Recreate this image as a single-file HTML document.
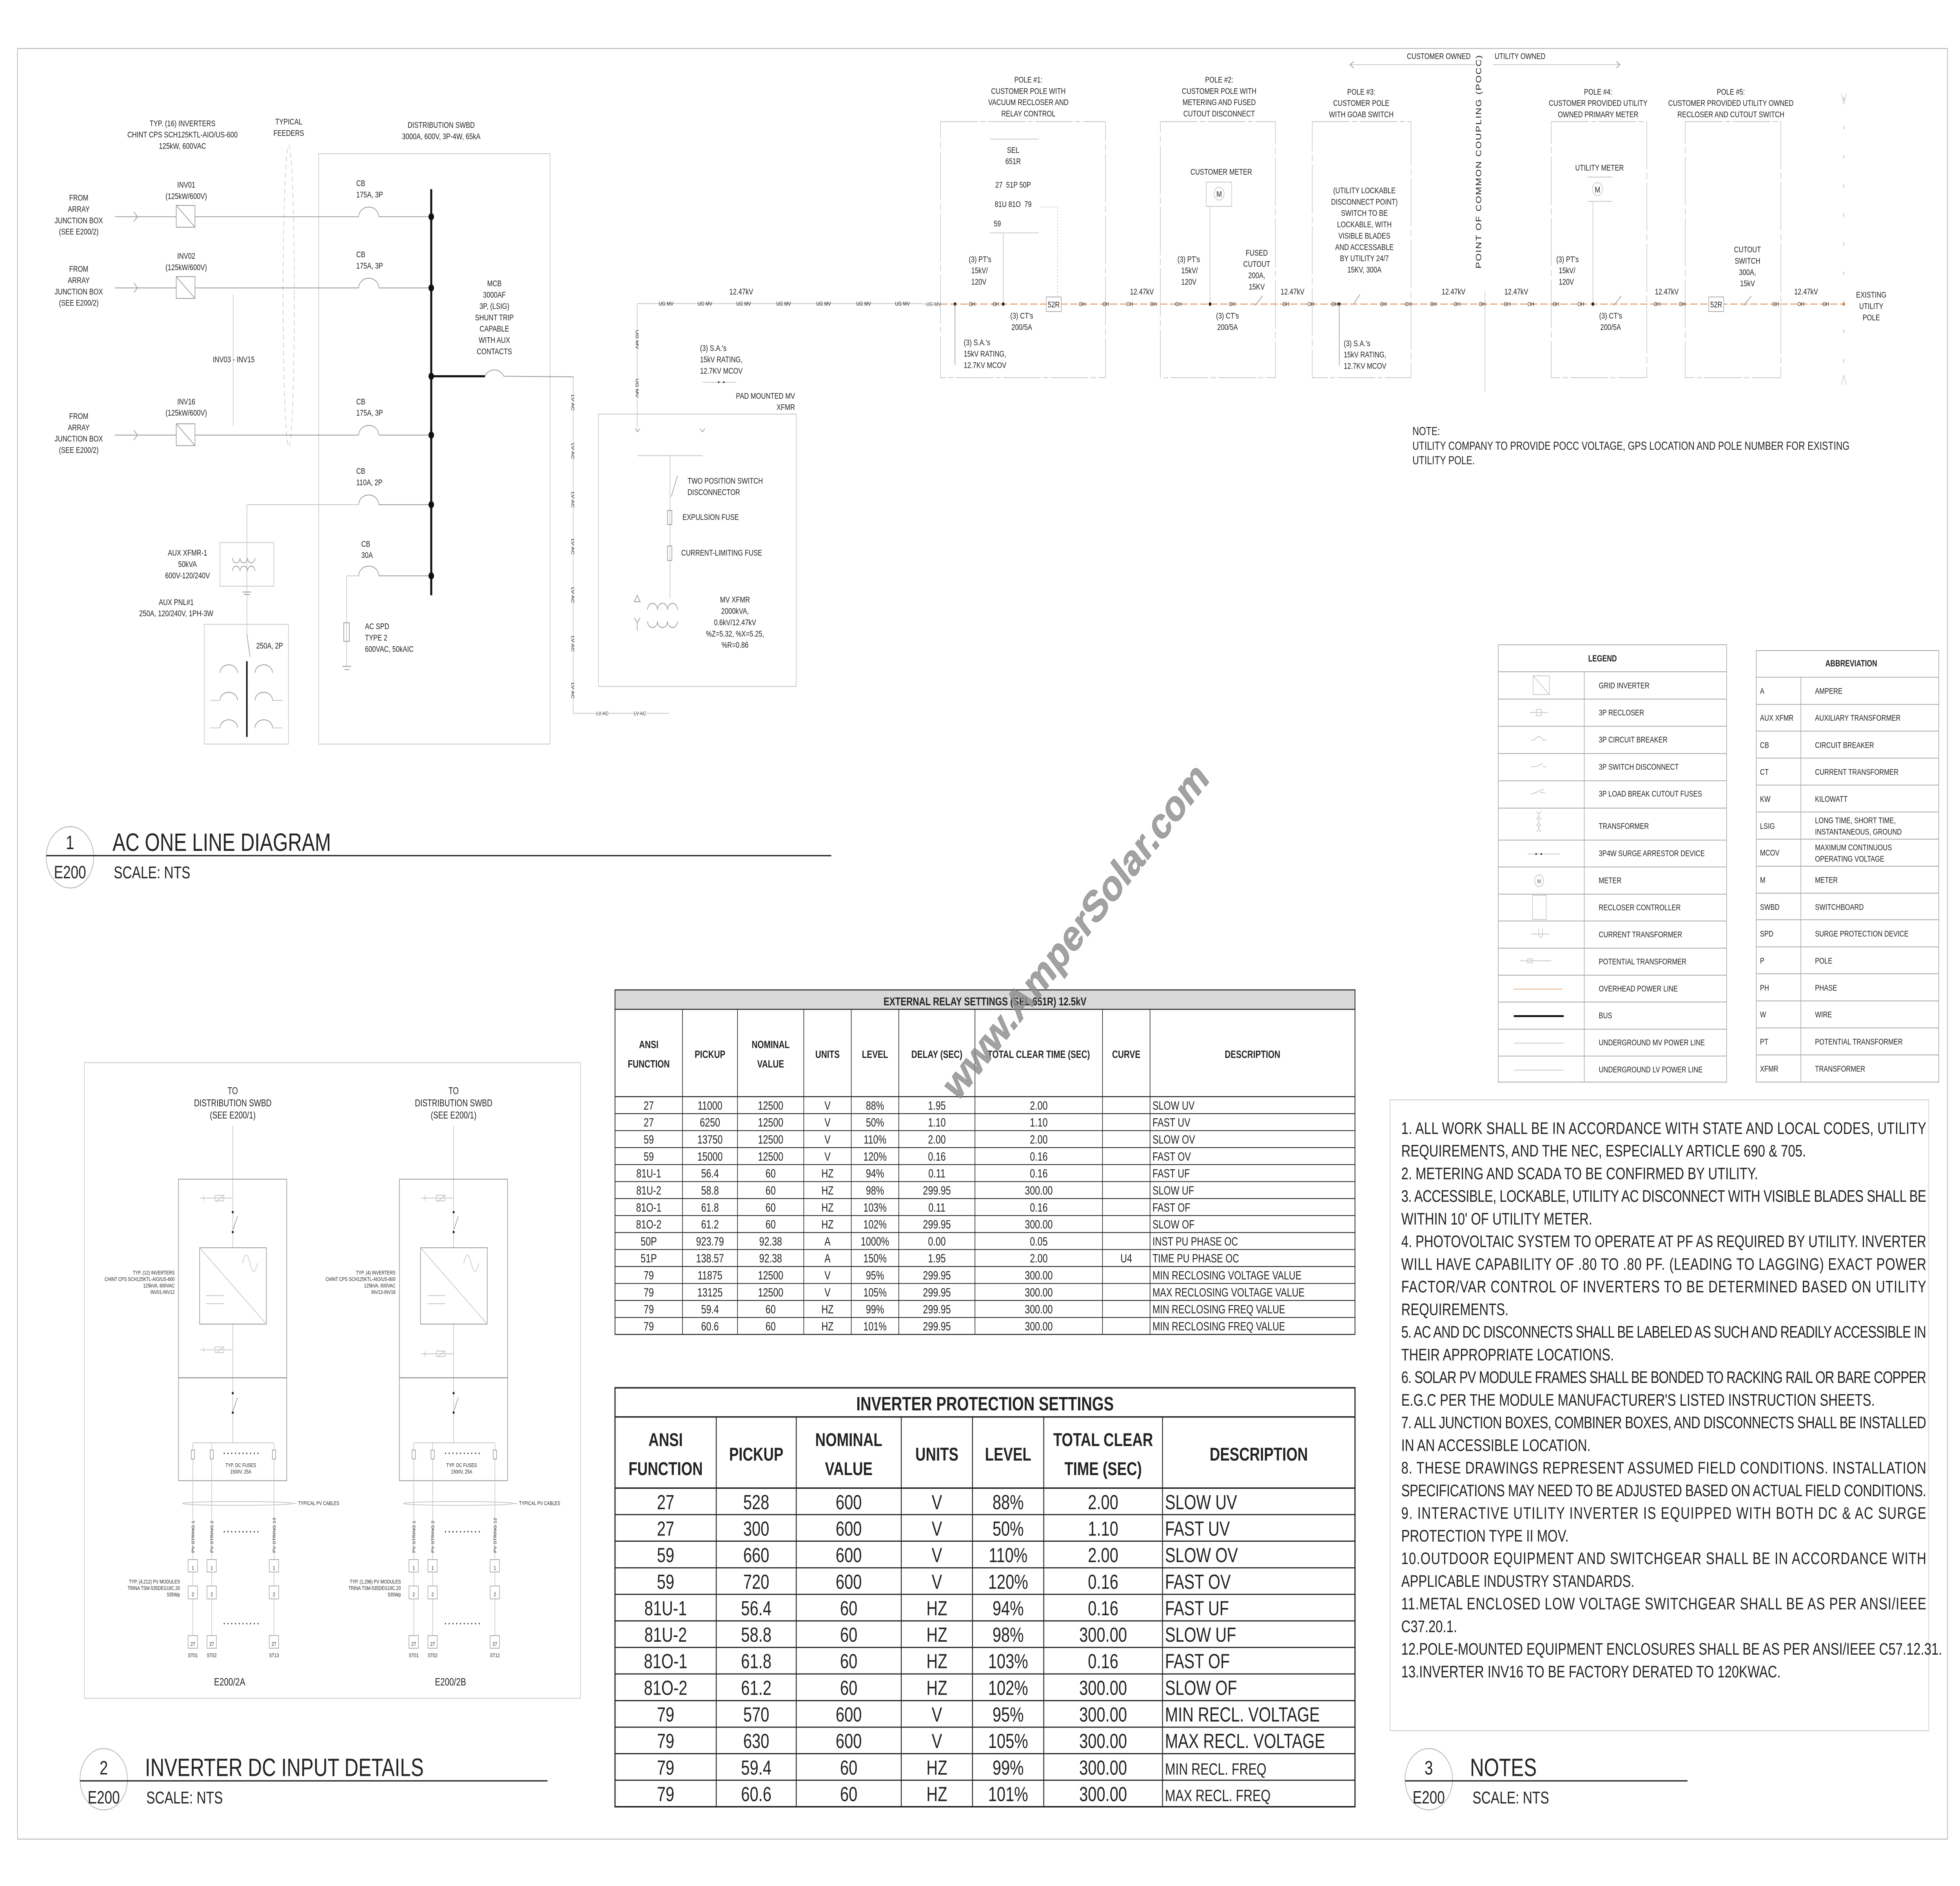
<!DOCTYPE html>
<html><head><meta charset="utf-8">
<style>
html,body{margin:0;padding:0;background:#fff;overflow:hidden;width:100%;height:100%;}
svg{display:block;position:absolute;left:0;top:0;width:100vw;height:100vh;}
text{font-family:"Liberation Sans",sans-serif;fill:#222;}
.s{font-size:5.2px;}
.xs{font-size:3.6px;fill:#555;}
.m{font-size:6px;}
.c{text-anchor:middle;}
.r{text-anchor:end;}
.g{stroke:#9a9a9a;stroke-width:.5;fill:none;}
.gl{stroke:#c8c8c8;stroke-width:.5;fill:none;}
.k{stroke:#333;stroke-width:.6;fill:none;}
.oh{stroke:#e39a62;stroke-width:.6;fill:none;stroke-dasharray:6 2;}
.ser{font-family:"Liberation Serif",serif;}
.tb{stroke:#222;stroke-width:.6;fill:none;}
.tb2{stroke:#222;stroke-width:.9;fill:none;}
</style></head><body>
<svg viewBox="0 0 1568 1166" preserveAspectRatio="none" xmlns="http://www.w3.org/2000/svg">
<rect x="0" y="0" width="1568" height="1166" fill="#fff"/>
<rect x="14" y="30" width="1544" height="1107" fill="none" stroke="#bbb" stroke-width=".6"/>

<!-- ================= AC ONE LINE (left) ================= -->
<text class="s c" x="146" y="78">TYP. (16) INVERTERS</text>
<text class="s c" x="146" y="85">CHINT CPS SCH125KTL-AIO/US-600</text>
<text class="s c" x="146" y="92">125kW, 600VAC</text>
<text class="s c" x="231" y="77">TYPICAL</text>
<text class="s c" x="231" y="84">FEEDERS</text>
<text class="s c" x="353" y="79">DISTRIBUTION SWBD</text>
<text class="s c" x="353" y="86">3000A, 600V, 3P-4W, 65kA</text>
<ellipse cx="231" cy="183" rx="4.5" ry="93" class="gl" stroke-dasharray="3 2"/>
<rect x="255" y="95" width="185" height="365" class="gl"/>
<line x1="345" y1="117" x2="345" y2="368" stroke="#111" stroke-width="1.6"/>
<g>
<text class="s c" x="63" y="124">FROM</text><text class="s c" x="63" y="131">ARRAY</text><text class="s c" x="63" y="138">JUNCTION BOX</text><text class="s c" x="63" y="145">(SEE E200/2)</text>
<line x1="92" y1="134" x2="141" y2="134" class="g"/><path d="M107 131 L110 134 L107 137" class="g"/>
<rect x="141" y="127" width="15" height="13.5" class="g"/><line x1="141" y1="127" x2="156" y2="140.5" class="g"/>
<text class="s c" x="149" y="116">INV01</text><text class="s c" x="149" y="123">(125kW/600V)</text>
<line x1="156" y1="134" x2="287" y2="134" class="g"/><path d="M287 134 A8 6 0 0 1 303 134" class="g"/><line x1="303" y1="134" x2="345" y2="134" class="g"/>
<text class="s" x="285" y="115">CB</text><text class="s" x="285" y="122">175A, 3P</text>
<circle cx="345" cy="134" r="2.2" fill="#111"/>
</g>
<g>
<text class="s c" x="63" y="168">FROM</text><text class="s c" x="63" y="175">ARRAY</text><text class="s c" x="63" y="182">JUNCTION BOX</text><text class="s c" x="63" y="189">(SEE E200/2)</text>
<line x1="92" y1="178" x2="141" y2="178" class="g"/><path d="M107 175 L110 178 L107 181" class="g"/>
<rect x="141" y="171" width="15" height="13.5" class="g"/><line x1="141" y1="171" x2="156" y2="184.5" class="g"/>
<text class="s c" x="149" y="160">INV02</text><text class="s c" x="149" y="167">(125kW/600V)</text>
<line x1="156" y1="178" x2="287" y2="178" class="g"/><path d="M287 178 A8 6 0 0 1 303 178" class="g"/><line x1="303" y1="178" x2="345" y2="178" class="g"/>
<text class="s" x="285" y="159">CB</text><text class="s" x="285" y="166">175A, 3P</text>
<circle cx="345" cy="178" r="2.2" fill="#111"/>
</g>
<line x1="186.5" y1="182" x2="186.5" y2="263" class="gl"/>
<text class="s c" x="187" y="224">INV03 - INV15</text>
<g>
<text class="s c" x="63" y="259">FROM</text><text class="s c" x="63" y="266">ARRAY</text><text class="s c" x="63" y="273">JUNCTION BOX</text><text class="s c" x="63" y="280">(SEE E200/2)</text>
<line x1="92" y1="269" x2="141" y2="269" class="g"/><path d="M107 266 L110 269 L107 272" class="g"/>
<rect x="141" y="262" width="15" height="13.5" class="g"/><line x1="141" y1="262" x2="156" y2="275.5" class="g"/>
<text class="s c" x="149" y="250">INV16</text><text class="s c" x="149" y="257">(125kW/600V)</text>
<line x1="156" y1="269" x2="287" y2="269" class="g"/><path d="M287 269 A8 6 0 0 1 303 269" class="g"/><line x1="303" y1="269" x2="345" y2="269" class="g"/>
<text class="s" x="285" y="250">CB</text><text class="s" x="285" y="257">175A, 3P</text>
<circle cx="345" cy="269" r="2.2" fill="#111"/>
</g>
<line x1="345" y1="232.6" x2="388" y2="232.6" stroke="#111" stroke-width="1.3"/>
<path d="M388 232.6 A8 6 0 0 1 403 232.6" class="g"/><line x1="403" y1="232.6" x2="459" y2="233" class="g"/>
<circle cx="345" cy="232.6" r="2.2" fill="#111"/>
<text class="s c" x="395.5" y="177">MCB</text><text class="s c" x="395.5" y="184">3000AF</text><text class="s c" x="395.5" y="191">3P, (LSIG)</text><text class="s c" x="395.5" y="198">SHUNT TRIP</text><text class="s c" x="395.5" y="205">CAPABLE</text><text class="s c" x="395.5" y="212">WITH AUX</text><text class="s c" x="395.5" y="219">CONTACTS</text>
<line x1="197.5" y1="312" x2="287" y2="312" class="gl"/><path d="M287 312 A8 6 0 0 1 303 312" class="g"/><line x1="303" y1="312" x2="345" y2="312" class="g"/>
<circle cx="345" cy="312" r="2.2" fill="#111"/>
<text class="s" x="285" y="293">CB</text><text class="s" x="285" y="300">110A, 2P</text>
<line x1="197.5" y1="312" x2="197.5" y2="392" class="gl"/>
<rect x="176" y="335.4" width="43" height="27" class="gl"/>
<path d="M186 345 a3 3 0 0 0 6 0 a3 3 0 0 0 6 0 a3 3 0 0 0 6 0 M186 353 a3 3 0 0 1 6 0 a3 3 0 0 1 6 0 a3 3 0 0 1 6 0" class="g"/>
<line x1="194" y1="366" x2="201" y2="366" class="g"/><line x1="195" y1="367.5" x2="200" y2="367.5" class="g"/>
<text class="s c" x="150" y="343.5">AUX XFMR-1</text><text class="s c" x="150" y="350.5">50kVA</text><text class="s c" x="150" y="357.5">600V-120/240V</text>
<text class="s c" x="141" y="374">AUX PNL#1</text><text class="s c" x="141" y="381">250A, 120/240V, 1PH-3W</text>
<rect x="163.4" y="386" width="67.4" height="74" class="gl"/>
<line x1="197.5" y1="392" x2="200" y2="406" class="g"/>
<text class="s" x="205" y="401">250A, 2P</text>
<line x1="197.5" y1="408.8" x2="197.5" y2="455.6" stroke="#111" stroke-width="1.2"/>
<path d="M176 416 A7 5 0 0 1 190 416 M204 416 A7 5 0 0 1 218 416 M176 433 A7 5 0 0 1 190 433 M204 433 A7 5 0 0 1 218 433 M176 450 A7 5 0 0 1 190 450 M204 450 A7 5 0 0 1 218 450" class="g"/>
<line x1="168" y1="433" x2="176" y2="433" class="gl"/><line x1="218" y1="433" x2="226" y2="433" class="gl"/><line x1="168" y1="450" x2="176" y2="450" class="gl"/><line x1="218" y1="450" x2="226" y2="450" class="gl"/>
<line x1="277.3" y1="356" x2="287" y2="356" class="gl"/><path d="M287 356 A8 6 0 0 1 303 356" class="g"/><line x1="303" y1="356" x2="345" y2="356" class="g"/>
<circle cx="345" cy="356" r="2.2" fill="#111"/>
<text class="s" x="289" y="338">CB</text><text class="s" x="289" y="345">30A</text>
<line x1="277.3" y1="356" x2="277.3" y2="412" class="gl"/>
<rect x="275" y="385" width="4.5" height="11.5" class="g"/>
<line x1="274" y1="412" x2="281" y2="412" class="g"/><line x1="275.5" y1="414" x2="279.5" y2="414" class="g"/>
<text class="s" x="292" y="389">AC SPD</text><text class="s" x="292" y="396">TYPE 2</text><text class="s" x="292" y="403">600VAC, 50kAIC</text>
<line x1="458.6" y1="233" x2="458.6" y2="441" class="gl"/>
<g class="xs"><text transform="translate(457,244) rotate(90)">LV AC</text><text transform="translate(457,274) rotate(90)">LV AC</text><text transform="translate(457,304) rotate(90)">LV AC</text><text transform="translate(457,333) rotate(90)">LV AC</text><text transform="translate(457,363) rotate(90)">LV AC</text><text transform="translate(457,393) rotate(90)">LV AC</text><text transform="translate(457,422) rotate(90)">LV AC</text></g>
<line x1="458.6" y1="441" x2="535" y2="441" class="gl"/>
<text class="xs" x="477" y="442.3">LV AC</text><text class="xs" x="507" y="442.3">LV AC</text>
<rect x="478.7" y="256" width="158.3" height="168.4" class="gl"/>
<text class="s r" x="636" y="246.5">PAD MOUNTED MV</text><text class="s r" x="636" y="253.5">XFMR</text>
<line x1="509.8" y1="187.7" x2="739" y2="187.7" class="gl"/>
<line x1="509.8" y1="187.7" x2="509.8" y2="266" class="gl"/>
<g class="xs"><text x="527" y="189">UG MV</text><text x="558" y="189">UG MV</text><text x="589" y="189">UG MV</text><text x="621" y="189">UG MV</text><text x="653" y="189">UG MV</text><text x="685" y="189">UG MV</text><text x="716" y="189">UG MV</text>
<text transform="translate(508.5,204) rotate(90)">UG MV</text><text transform="translate(508.5,234) rotate(90)">UG MV</text></g>
<text class="s c" x="593" y="182">12.47kV</text>
<text class="s" x="560" y="217">(3) S.A.'s</text><text class="s" x="560" y="224">15kV RATING,</text><text class="s" x="560" y="231">12.7KV MCOV</text>
<line x1="562" y1="236.3" x2="589" y2="236.3" class="gl"/><circle cx="575" cy="236.3" r=".6" fill="#222"/><circle cx="579" cy="236.3" r=".6" fill="#222"/>
<path d="M508 265 l2 2 l2 -2 M560 265 l2 2 l2 -2" class="g"/>
<line x1="509.8" y1="281.7" x2="562" y2="281.7" class="gl"/>
<line x1="536" y1="281.7" x2="536" y2="370" class="gl"/>
<line x1="537" y1="307" x2="542" y2="294" class="g"/>
<text class="s" x="550" y="299">TWO POSITION SWITCH</text><text class="s" x="550" y="306">DISCONNECTOR</text>
<rect x="534" y="315.6" width="3.5" height="8.7" class="g"/><text class="s" x="546" y="321.5">EXPULSION FUSE</text>
<rect x="534" y="337.5" width="3.5" height="9" class="g"/><text class="s" x="545" y="343.5">CURRENT-LIMITING FUSE</text>
<path d="M507.5 372 l2.3 -4 l2.3 4 z" class="g"/>
<path d="M518 377 a4 4 0 0 1 8 0 a4 4 0 0 1 8 0 a4 4 0 0 1 8 0 M518 384 a4 4 0 0 0 8 0 a4 4 0 0 0 8 0 a4 4 0 0 0 8 0" class="g"/>
<path d="M507.5 382 l2.3 3 l2.3 -3 M509.8 385 v5" class="g"/>
<text class="s c" x="588" y="372.5">MV XFMR</text><text class="s c" x="588" y="379.5">2000kVA,</text><text class="s c" x="588" y="386.5">0.6kV/12.47kV</text><text class="s c" x="588" y="393.5">%Z=5.32, %X=5.25,</text><text class="s c" x="588" y="400.5">%R=0.86</text>

<circle cx="56" cy="530" r="19" fill="none" stroke="#bbb" stroke-width=".6"/>
<line x1="37" y1="529" x2="665" y2="529" stroke="#222" stroke-width=".8"/>
<text x="56" y="525" class="c" style="font-size:12px">1</text>
<text x="56" y="543" class="c" style="font-size:11px">E200</text>
<text x="90" y="526" style="font-size:15.5px">AC ONE LINE DIAGRAM</text>
<text x="91" y="543" style="font-size:10.5px">SCALE: NTS</text>

<!-- ================= TOP RIGHT (poles) ================= -->
<text class="s c" x="1151" y="36.5">CUSTOMER OWNED</text><text class="s c" x="1216" y="36.5">UTILITY OWNED</text>
<line x1="1080" y1="40" x2="1180" y2="40" class="gl"/><path d="M1083 38 l-3 2 l3 2" class="g"/>
<line x1="1194.5" y1="40" x2="1296" y2="40" class="gl"/><path d="M1293 38 l3 2 l-3 2" class="g"/>
<g class="s c">
<text x="822.7" y="51">POLE #1:</text><text x="822.7" y="58">CUSTOMER POLE WITH</text><text x="822.7" y="65">VACUUM RECLOSER AND</text><text x="822.7" y="72">RELAY CONTROL</text>
<text x="975.3" y="51">POLE #2:</text><text x="975.3" y="58">CUSTOMER POLE WITH</text><text x="975.3" y="65">METERING AND FUSED</text><text x="975.3" y="72">CUTOUT DISCONNECT</text>
<text x="1089" y="58.5">POLE #3:</text><text x="1089" y="65.5">CUSTOMER POLE</text><text x="1089" y="72.5">WITH GOAB SWITCH</text>
<text x="1278.5" y="58.5">POLE #4:</text><text x="1278.5" y="65.5">CUSTOMER PROVIDED UTILITY</text><text x="1278.5" y="72.5">OWNED PRIMARY METER</text>
<text x="1384.7" y="58.5">POLE #5:</text><text x="1384.7" y="65.5">CUSTOMER PROVIDED UTILITY OWNED</text><text x="1384.7" y="72.5">RECLOSER AND CUTOUT SWITCH</text>
</g>
<text transform="translate(1185,166) rotate(-90)" style="font-size:6px;letter-spacing:.6px">POINT OF COMMON COUPLING (POCC)</text>
<line x1="1188" y1="180" x2="1188" y2="242" class="gl"/>
<g class="gl" stroke-dasharray="30 2 4 2">
<rect x="752.4" y="75.2" width="132" height="158.3"/>
<rect x="928.3" y="75.2" width="92" height="158.3"/>
<rect x="1049.8" y="75.2" width="79" height="158.3"/>
<rect x="1241" y="75.2" width="76.5" height="158.3"/>
<rect x="1348.2" y="75.2" width="76.5" height="158.3"/>
</g>
<line x1="739" y1="188" x2="752" y2="188" class="gl"/>
<line x1="752" y1="188" x2="1475" y2="188" class="oh"/>
<g class="xs" style="fill:#d9823f">
<text x="775" y="189.2">OH</text><text x="794" y="189.2">OH</text><text x="863" y="189.2">OH</text><text x="882" y="189.2">OH</text><text x="901" y="189.2">OH</text><text x="920" y="189.2">OH</text><text x="940" y="189.2">OH</text><text x="983" y="189.2">OH</text><text x="1026" y="189.2">OH</text><text x="1046" y="189.2">OH</text><text x="1065" y="189.2">OH</text><text x="1104" y="189.2">OH</text><text x="1124" y="189.2">OH</text><text x="1144" y="189.2">OH</text><text x="1163" y="189.2">OH</text><text x="1183" y="189.2">OH</text><text x="1203" y="189.2">OH</text><text x="1222" y="189.2">OH</text><text x="1242" y="189.2">OH</text><text x="1262" y="189.2">OH</text><text x="1323" y="189.2">OH</text><text x="1343" y="189.2">OH</text><text x="1418" y="189.2">OH</text><text x="1438" y="189.2">OH</text><text x="1458" y="189.2">OH</text>
</g>
<text class="xs" x="741" y="189.2">UG MV</text>
<g class="s c">
<text x="913.5" y="182">12.47kV</text><text x="1034" y="182">12.47kV</text><text x="1162.8" y="182">12.47kV</text><text x="1213" y="182">12.47kV</text><text x="1333.4" y="182">12.47kV</text><text x="1444.9" y="182">12.47kV</text>
</g>
<circle cx="764" cy="188" r="1.1" fill="#222"/>
<line x1="764" y1="188" x2="764" y2="225.5" class="g"/>
<text class="s" x="771" y="213.5">(3) S.A.'s</text><text class="s" x="771" y="220.5">15kV RATING,</text><text class="s" x="771" y="227.5">12.7KV MCOV</text>
<line x1="792" y1="86" x2="831" y2="86" class="gl"/>
<text class="s c" x="810.5" y="94.5">SEL</text><text class="s c" x="810.5" y="101.5">651R</text>
<text class="s c" x="810.5" y="116">27&#160;&#160;51P 50P</text><text class="s c" x="810.5" y="128">81U 81O&#160;&#160;79</text><text class="s" x="795" y="140">59</text>
<line x1="792" y1="144" x2="831" y2="144" class="gl"/>
<line x1="802.6" y1="144" x2="802.6" y2="188" class="gl"/>
<line x1="832" y1="128" x2="846" y2="128" class="gl" stroke-dasharray="1 1"/><line x1="846" y1="128" x2="846" y2="183" class="gl" stroke-dasharray="1 1"/>
<circle cx="802.6" cy="188" r="1.1" fill="#222"/>
<text class="s" x="775" y="162">(3) PT's</text><text class="s" x="777" y="169">15kV/</text><text class="s" x="777" y="176">120V</text>
<text class="s c" x="817.4" y="197">(3) CT's</text><text class="s c" x="817.4" y="204">200/5A</text>
<rect x="837" y="183.6" width="12" height="9" fill="#fff" stroke="#999" stroke-width=".4"/><text class="s c" x="843" y="190">52R</text>
<text class="s c" x="977" y="108">CUSTOMER METER</text>
<rect x="965" y="112.6" width="20.4" height="15" class="gl"/><circle cx="975.3" cy="119.7" r="4" class="gl"/><text class="s c" x="975.3" y="121.7">M</text>
<line x1="968" y1="127.7" x2="968" y2="188" class="gl"/><circle cx="968" cy="188" r="1.1" fill="#222"/>
<text class="s" x="942" y="162">(3) PT's</text><text class="s" x="945" y="169">15kV/</text><text class="s" x="945" y="176">120V</text>
<text class="s c" x="982" y="197">(3) CT's</text><text class="s c" x="982" y="204">200/5A</text>
<text class="s c" x="1005.4" y="158">FUSED</text><text class="s c" x="1005.4" y="165">CUTOUT</text><text class="s c" x="1005.4" y="172">200A,</text><text class="s c" x="1005.4" y="179">15KV</text>
<line x1="1004" y1="189" x2="1010" y2="183" class="g"/>
<circle cx="1071.4" cy="188" r="1.1" fill="#222"/>
<line x1="1071.4" y1="188" x2="1071.4" y2="226" class="g"/>
<line x1="1083" y1="188" x2="1088" y2="182" class="g"/>
<g class="s c"><text x="1091.5" y="119.5">(UTILITY LOCKABLE</text><text x="1091.5" y="126.5">DISCONNECT POINT)</text><text x="1091.5" y="133.5">SWITCH TO BE</text><text x="1091.5" y="140.5">LOCKABLE, WITH</text><text x="1091.5" y="147.5">VISIBLE BLADES</text><text x="1091.5" y="154.5">AND ACCESSABLE</text><text x="1091.5" y="161.5">BY UTILITY 24/7</text><text x="1091.5" y="168.5">15KV, 300A</text></g>
<text class="s" x="1075" y="214">(3) S.A.'s</text><text class="s" x="1075" y="221">15kV RATING,</text><text class="s" x="1075" y="228">12.7KV MCOV</text>
<text class="s c" x="1279.6" y="105.5">UTILITY METER</text>
<line x1="1270" y1="109.5" x2="1290" y2="109.5" class="gl"/><circle cx="1278" cy="116.9" r="4" class="gl"/><text class="s c" x="1278" y="119">M</text>
<line x1="1270" y1="124.5" x2="1290" y2="124.5" class="gl"/>
<line x1="1274.3" y1="124.5" x2="1274.3" y2="188" class="gl"/><circle cx="1274.3" cy="188" r="1.1" fill="#222"/>
<text class="s" x="1245" y="162">(3) PT's</text><text class="s" x="1247" y="169">15kV/</text><text class="s" x="1247" y="176">120V</text>
<text class="s c" x="1288.5" y="197">(3) CT's</text><text class="s c" x="1288.5" y="204">200/5A</text>
<line x1="1291" y1="189" x2="1297" y2="183" class="g"/>
<rect x="1367" y="183.6" width="12" height="9" fill="#fff" stroke="#999" stroke-width=".4"/><text class="s c" x="1373" y="190">52R</text>
<line x1="1395" y1="189" x2="1401" y2="183" class="g"/>
<text class="s c" x="1398" y="156">CUTOUT</text><text class="s c" x="1398" y="163">SWITCH</text><text class="s c" x="1398" y="170">300A,</text><text class="s c" x="1398" y="177">15kV</text>
<text class="s c" x="1497" y="184">EXISTING</text><text class="s c" x="1497" y="191">UTILITY</text><text class="s c" x="1497" y="198">POLE</text>
<circle cx="1475" cy="188" r="1.1" fill="#d9823f"/>
<line x1="1475" y1="60" x2="1475" y2="236" stroke="#e39a62" stroke-width=".5" stroke-dasharray="2 16"/>
<path d="M1473 58 l2 6 l2 -6 M1473 238 l2 -6 l2 6" class="gl"/>
<text x="1130" y="269" style="font-size:7.2px">NOTE:</text>
<text x="1130" y="278" style="font-size:7.2px">UTILITY COMPANY TO PROVIDE POCC VOLTAGE, GPS LOCATION AND POLE NUMBER FOR EXISTING</text>
<text x="1130" y="287" style="font-size:7.2px">UTILITY POLE.</text>

<!-- ================= LEGEND ================= -->
<g>
<rect x="1198.6" y="398.6" width="182.7" height="270.4" fill="none" stroke="#aaa" stroke-width=".5"/>
<line x1="1267.4" y1="415.3" x2="1267.4" y2="669" stroke="#aaa" stroke-width=".5"/>
<g stroke="#aaa" stroke-width=".5">
<line x1="1198.6" y1="415.3" x2="1381.3" y2="415.3"/><line x1="1198.6" y1="432.2" x2="1381.3" y2="432.2"/><line x1="1198.6" y1="449" x2="1381.3" y2="449"/><line x1="1198.6" y1="465.9" x2="1381.3" y2="465.9"/><line x1="1198.6" y1="482.7" x2="1381.3" y2="482.7"/><line x1="1198.6" y1="499.6" x2="1381.3" y2="499.6"/><line x1="1198.6" y1="519.4" x2="1381.3" y2="519.4"/><line x1="1198.6" y1="536" x2="1381.3" y2="536"/><line x1="1198.6" y1="552.8" x2="1381.3" y2="552.8"/><line x1="1198.6" y1="569.4" x2="1381.3" y2="569.4"/><line x1="1198.6" y1="586.2" x2="1381.3" y2="586.2"/><line x1="1198.6" y1="602.9" x2="1381.3" y2="602.9"/><line x1="1198.6" y1="619.5" x2="1381.3" y2="619.5"/><line x1="1198.6" y1="636.3" x2="1381.3" y2="636.3"/><line x1="1198.6" y1="652.9" x2="1381.3" y2="652.9"/>
</g>
<text class="c" x="1282" y="409" style="font-size:5.5px;font-weight:bold">LEGEND</text>
<g class="s">
<text x="1279" y="425.6">GRID INVERTER</text><text x="1279" y="442.3">3P RECLOSER</text><text x="1279" y="459">3P CIRCUIT BREAKER</text><text x="1279" y="475.8">3P SWITCH DISCONNECT</text><text x="1279" y="492.5">3P LOAD BREAK CUTOUT FUSES</text><text x="1279" y="512.5">TRANSFORMER</text><text x="1279" y="529.3">3P4W SURGE ARRESTOR DEVICE</text><text x="1279" y="546">METER</text><text x="1279" y="562.8">RECLOSER CONTROLLER</text><text x="1279" y="579.5">CURRENT TRANSFORMER</text><text x="1279" y="596.2">POTENTIAL TRANSFORMER</text><text x="1279" y="613">OVERHEAD POWER LINE</text><text x="1279" y="629.6">BUS</text><text x="1279" y="646.3">UNDERGROUND MV POWER LINE</text><text x="1279" y="663">UNDERGROUND LV POWER LINE</text>
</g>
<rect x="1226.5" y="417.8" width="13" height="11.6" class="gl"/><line x1="1226.5" y1="417.8" x2="1239.5" y2="429.4" class="gl"/>
<line x1="1224" y1="440.5" x2="1238" y2="440.5" class="gl"/><rect x="1229" y="438.6" width="4" height="3.8" class="gl"/>
<path d="M1225 457.5 h3 a3 2 0 0 1 6 0 h3" class="gl"/>
<path d="M1225 474 h4 l5 -2 M1234 474 h3" class="gl"/>
<path d="M1225 491 l10 -3 M1232 490 h4" class="gl"/>
<path d="M1229 502 a2 2 0 0 1 0 4 a2 2 0 0 1 0 4 a2 2 0 0 1 0 4 M1233 502 a2 2 0 0 0 0 4 a2 2 0 0 0 0 4 a2 2 0 0 0 0 4" class="gl"/>
<line x1="1222" y1="528" x2="1248" y2="528" class="gl"/><circle cx="1228.9" cy="528" r=".6" fill="#222"/><circle cx="1233" cy="528" r=".6" fill="#222"/>
<circle cx="1231.3" cy="544.5" r="3.6" class="gl"/><text class="xs c" x="1231.3" y="546">M</text>
<rect x="1226" y="553.5" width="11" height="15" class="gl"/>
<path d="M1225 577.5 h14 M1231 574 v4 a1.5 1.5 0 0 0 3 0 v-4" class="gl"/>
<path d="M1216 594 h25 M1222 592.8 h4 v2.4 h-4z" class="gl"/>
<line x1="1211" y1="611.5" x2="1250" y2="611.5" stroke="#e39a62" stroke-width=".4"/>
<line x1="1211" y1="628.2" x2="1251" y2="628.2" stroke="#111" stroke-width="1.2"/>
<line x1="1211" y1="644.9" x2="1251" y2="644.9" class="gl"/><line x1="1211" y1="661.6" x2="1251" y2="661.6" class="gl"/>
</g>
<g>
<rect x="1405" y="402.2" width="146" height="266.8" fill="none" stroke="#aaa" stroke-width=".5"/>
<line x1="1440.7" y1="418.7" x2="1440.7" y2="669" stroke="#aaa" stroke-width=".5"/>
<g stroke="#aaa" stroke-width=".5">
<line x1="1405" y1="418.7" x2="1551" y2="418.7"/><line x1="1405" y1="435.5" x2="1551" y2="435.5"/><line x1="1405" y1="452" x2="1551" y2="452"/><line x1="1405" y1="468.7" x2="1551" y2="468.7"/><line x1="1405" y1="485.4" x2="1551" y2="485.4"/><line x1="1405" y1="502" x2="1551" y2="502"/><line x1="1405" y1="518.8" x2="1551" y2="518.8"/><line x1="1405" y1="535.5" x2="1551" y2="535.5"/><line x1="1405" y1="552.2" x2="1551" y2="552.2"/><line x1="1405" y1="568.6" x2="1551" y2="568.6"/><line x1="1405" y1="585.4" x2="1551" y2="585.4"/><line x1="1405" y1="602" x2="1551" y2="602"/><line x1="1405" y1="618.8" x2="1551" y2="618.8"/><line x1="1405" y1="635.5" x2="1551" y2="635.5"/><line x1="1405" y1="652.2" x2="1551" y2="652.2"/>
</g>
<text class="c" x="1481" y="412" style="font-size:5.5px;font-weight:bold">ABBREVIATION</text>
<g class="s">
<text x="1408" y="429">A</text><text x="1452" y="429">AMPERE</text>
<text x="1408" y="445.6">AUX XFMR</text><text x="1452" y="445.6">AUXILIARY TRANSFORMER</text>
<text x="1408" y="462.4">CB</text><text x="1452" y="462.4">CIRCUIT BREAKER</text>
<text x="1408" y="479">CT</text><text x="1452" y="479">CURRENT TRANSFORMER</text>
<text x="1408" y="495.7">KW</text><text x="1452" y="495.7">KILOWATT</text>
<text x="1408" y="512.4">LSIG</text><text x="1452" y="509">LONG TIME, SHORT TIME,</text><text x="1452" y="516">INSTANTANEOUS, GROUND</text>
<text x="1408" y="529">MCOV</text><text x="1452" y="525.7">MAXIMUM CONTINUOUS</text><text x="1452" y="532.7">OPERATING VOLTAGE</text>
<text x="1408" y="545.8">M</text><text x="1452" y="545.8">METER</text>
<text x="1408" y="562.5">SWBD</text><text x="1452" y="562.5">SWITCHBOARD</text>
<text x="1408" y="579">SPD</text><text x="1452" y="579">SURGE PROTECTION DEVICE</text>
<text x="1408" y="595.7">P</text><text x="1452" y="595.7">POLE</text>
<text x="1408" y="612.4">PH</text><text x="1452" y="612.4">PHASE</text>
<text x="1408" y="629">W</text><text x="1452" y="629">WIRE</text>
<text x="1408" y="645.8">PT</text><text x="1452" y="645.8">POTENTIAL TRANSFORMER</text>
<text x="1408" y="662.5">XFMR</text><text x="1452" y="662.5">TRANSFORMER</text>
</g>
</g>

<!-- ================= EXTERNAL RELAY TABLE ================= -->
<g>
<rect x="492" y="612" width="592" height="213" class="tb"/>
<rect x="492" y="612" width="592" height="12" fill="#d8d8d8" stroke="#222" stroke-width=".6"/>
<text class="c" x="788" y="621.5" style="font-size:7px;font-weight:bold">EXTERNAL RELAY SETTINGS (SEL 651R) 12.5kV</text>
<line x1="492" y1="678" x2="1084" y2="678" class="tb"/>
<g stroke="#222" stroke-width=".5">
<line x1="546" y1="624" x2="546" y2="825"/><line x1="590" y1="624" x2="590" y2="825"/><line x1="643" y1="624" x2="643" y2="825"/><line x1="681" y1="624" x2="681" y2="825"/><line x1="719" y1="624" x2="719" y2="825"/><line x1="780" y1="624" x2="780" y2="825"/><line x1="882" y1="624" x2="882" y2="825"/><line x1="920" y1="624" x2="920" y2="825"/>
<line x1="492" y1="688.5" x2="1084" y2="688.5"/><line x1="492" y1="699" x2="1084" y2="699"/><line x1="492" y1="709.5" x2="1084" y2="709.5"/><line x1="492" y1="720" x2="1084" y2="720"/><line x1="492" y1="730.5" x2="1084" y2="730.5"/><line x1="492" y1="741" x2="1084" y2="741"/><line x1="492" y1="751.5" x2="1084" y2="751.5"/><line x1="492" y1="762" x2="1084" y2="762"/><line x1="492" y1="772.5" x2="1084" y2="772.5"/><line x1="492" y1="783" x2="1084" y2="783"/><line x1="492" y1="793.5" x2="1084" y2="793.5"/><line x1="492" y1="804" x2="1084" y2="804"/><line x1="492" y1="814.5" x2="1084" y2="814.5"/>
</g>
<g class="c" style="font-size:6.5px;font-weight:bold">
<text x="519" y="648">ANSI</text><text x="519" y="660">FUNCTION</text><text x="568" y="654">PICKUP</text><text x="616.5" y="648">NOMINAL</text><text x="616.5" y="660">VALUE</text><text x="662" y="654">UNITS</text><text x="700" y="654">LEVEL</text><text x="749.5" y="654">DELAY (SEC)</text><text x="831" y="654">TOTAL CLEAR TIME (SEC)</text><text x="901" y="654">CURVE</text><text x="1002" y="654">DESCRIPTION</text>
</g>
<g class="ser" style="font-size:7.3px">
<g class="c">
<text x="519" y="686">27</text><text x="568" y="686">11000</text><text x="616.5" y="686">12500</text><text x="662" y="686">V</text><text x="700" y="686">88%</text><text x="749.5" y="686">1.95</text><text x="831" y="686">2.00</text>
<text x="519" y="696.5">27</text><text x="568" y="696.5">6250</text><text x="616.5" y="696.5">12500</text><text x="662" y="696.5">V</text><text x="700" y="696.5">50%</text><text x="749.5" y="696.5">1.10</text><text x="831" y="696.5">1.10</text>
<text x="519" y="707">59</text><text x="568" y="707">13750</text><text x="616.5" y="707">12500</text><text x="662" y="707">V</text><text x="700" y="707">110%</text><text x="749.5" y="707">2.00</text><text x="831" y="707">2.00</text>
<text x="519" y="717.5">59</text><text x="568" y="717.5">15000</text><text x="616.5" y="717.5">12500</text><text x="662" y="717.5">V</text><text x="700" y="717.5">120%</text><text x="749.5" y="717.5">0.16</text><text x="831" y="717.5">0.16</text>
<text x="519" y="728">81U-1</text><text x="568" y="728">56.4</text><text x="616.5" y="728">60</text><text x="662" y="728">HZ</text><text x="700" y="728">94%</text><text x="749.5" y="728">0.11</text><text x="831" y="728">0.16</text>
<text x="519" y="738.5">81U-2</text><text x="568" y="738.5">58.8</text><text x="616.5" y="738.5">60</text><text x="662" y="738.5">HZ</text><text x="700" y="738.5">98%</text><text x="749.5" y="738.5">299.95</text><text x="831" y="738.5">300.00</text>
<text x="519" y="749">81O-1</text><text x="568" y="749">61.8</text><text x="616.5" y="749">60</text><text x="662" y="749">HZ</text><text x="700" y="749">103%</text><text x="749.5" y="749">0.11</text><text x="831" y="749">0.16</text>
<text x="519" y="759.5">81O-2</text><text x="568" y="759.5">61.2</text><text x="616.5" y="759.5">60</text><text x="662" y="759.5">HZ</text><text x="700" y="759.5">102%</text><text x="749.5" y="759.5">299.95</text><text x="831" y="759.5">300.00</text>
<text x="519" y="770">50P</text><text x="568" y="770">923.79</text><text x="616.5" y="770">92.38</text><text x="662" y="770">A</text><text x="700" y="770">1000%</text><text x="749.5" y="770">0.00</text><text x="831" y="770">0.05</text>
<text x="519" y="780.5">51P</text><text x="568" y="780.5">138.57</text><text x="616.5" y="780.5">92.38</text><text x="662" y="780.5">A</text><text x="700" y="780.5">150%</text><text x="749.5" y="780.5">1.95</text><text x="831" y="780.5">2.00</text><text x="901" y="780.5">U4</text>
<text x="519" y="791">79</text><text x="568" y="791">11875</text><text x="616.5" y="791">12500</text><text x="662" y="791">V</text><text x="700" y="791">95%</text><text x="749.5" y="791">299.95</text><text x="831" y="791">300.00</text>
<text x="519" y="801.5">79</text><text x="568" y="801.5">13125</text><text x="616.5" y="801.5">12500</text><text x="662" y="801.5">V</text><text x="700" y="801.5">105%</text><text x="749.5" y="801.5">299.95</text><text x="831" y="801.5">300.00</text>
<text x="519" y="812">79</text><text x="568" y="812">59.4</text><text x="616.5" y="812">60</text><text x="662" y="812">HZ</text><text x="700" y="812">99%</text><text x="749.5" y="812">299.95</text><text x="831" y="812">300.00</text>
<text x="519" y="822.5">79</text><text x="568" y="822.5">60.6</text><text x="616.5" y="822.5">60</text><text x="662" y="822.5">HZ</text><text x="700" y="822.5">101%</text><text x="749.5" y="822.5">299.95</text><text x="831" y="822.5">300.00</text>
</g>
<text x="922" y="686">SLOW UV</text><text x="922" y="696.5">FAST UV</text><text x="922" y="707">SLOW OV</text><text x="922" y="717.5">FAST OV</text><text x="922" y="728">FAST UF</text><text x="922" y="738.5">SLOW UF</text><text x="922" y="749">FAST OF</text><text x="922" y="759.5">SLOW OF</text><text x="922" y="770">INST PU PHASE OC</text><text x="922" y="780.5">TIME PU PHASE OC</text><text x="922" y="791">MIN RECLOSING VOLTAGE VALUE</text><text x="922" y="801.5">MAX RECLOSING VOLTAGE VALUE</text><text x="922" y="812">MIN RECLOSING FREQ VALUE</text><text x="922" y="822.5">MIN RECLOSING FREQ VALUE</text>
</g>
</g>

<!-- ================= INVERTER PROTECTION TABLE ================= -->
<g>
<rect x="492" y="858" width="592" height="259" class="tb2"/>
<line x1="492" y1="876" x2="1084" y2="876" class="tb2"/>
<line x1="492" y1="920" x2="1084" y2="920" class="tb2"/>
<text class="c" x="788" y="872" style="font-size:12px;font-weight:bold">INVERTER PROTECTION SETTINGS</text>
<g stroke="#222" stroke-width=".7">
<line x1="573" y1="876" x2="573" y2="1117"/><line x1="637" y1="876" x2="637" y2="1117"/><line x1="721" y1="876" x2="721" y2="1117"/><line x1="778" y1="876" x2="778" y2="1117"/><line x1="835" y1="876" x2="835" y2="1117"/><line x1="930" y1="876" x2="930" y2="1117"/>
<line x1="492" y1="936.4" x2="1084" y2="936.4"/><line x1="492" y1="952.8" x2="1084" y2="952.8"/><line x1="492" y1="969.3" x2="1084" y2="969.3"/><line x1="492" y1="985.7" x2="1084" y2="985.7"/><line x1="492" y1="1002.1" x2="1084" y2="1002.1"/><line x1="492" y1="1018.5" x2="1084" y2="1018.5"/><line x1="492" y1="1034.9" x2="1084" y2="1034.9"/><line x1="492" y1="1051.4" x2="1084" y2="1051.4"/><line x1="492" y1="1067.8" x2="1084" y2="1067.8"/><line x1="492" y1="1084.2" x2="1084" y2="1084.2"/><line x1="492" y1="1100.6" x2="1084" y2="1100.6"/>
</g>
<g class="c" style="font-size:11.5px;font-weight:bold">
<text x="532.5" y="894">ANSI</text><text x="532.5" y="912">FUNCTION</text><text x="605" y="903">PICKUP</text><text x="679" y="894">NOMINAL</text><text x="679" y="912">VALUE</text><text x="749.5" y="903">UNITS</text><text x="806.5" y="903">LEVEL</text><text x="882.5" y="894">TOTAL CLEAR</text><text x="882.5" y="912">TIME (SEC)</text><text x="1007" y="903">DESCRIPTION</text>
</g>
<g class="ser" style="font-size:12.5px">
<g class="c">
<text x="532.5" y="933">27</text><text x="605" y="933">528</text><text x="679" y="933">600</text><text x="749.5" y="933">V</text><text x="806.5" y="933">88%</text><text x="882.5" y="933">2.00</text>
<text x="532.5" y="949.4">27</text><text x="605" y="949.4">300</text><text x="679" y="949.4">600</text><text x="749.5" y="949.4">V</text><text x="806.5" y="949.4">50%</text><text x="882.5" y="949.4">1.10</text>
<text x="532.5" y="965.8">59</text><text x="605" y="965.8">660</text><text x="679" y="965.8">600</text><text x="749.5" y="965.8">V</text><text x="806.5" y="965.8">110%</text><text x="882.5" y="965.8">2.00</text>
<text x="532.5" y="982.2">59</text><text x="605" y="982.2">720</text><text x="679" y="982.2">600</text><text x="749.5" y="982.2">V</text><text x="806.5" y="982.2">120%</text><text x="882.5" y="982.2">0.16</text>
<text x="532.5" y="998.6">81U-1</text><text x="605" y="998.6">56.4</text><text x="679" y="998.6">60</text><text x="749.5" y="998.6">HZ</text><text x="806.5" y="998.6">94%</text><text x="882.5" y="998.6">0.16</text>
<text x="532.5" y="1015">81U-2</text><text x="605" y="1015">58.8</text><text x="679" y="1015">60</text><text x="749.5" y="1015">HZ</text><text x="806.5" y="1015">98%</text><text x="882.5" y="1015">300.00</text>
<text x="532.5" y="1031.4">81O-1</text><text x="605" y="1031.4">61.8</text><text x="679" y="1031.4">60</text><text x="749.5" y="1031.4">HZ</text><text x="806.5" y="1031.4">103%</text><text x="882.5" y="1031.4">0.16</text>
<text x="532.5" y="1047.8">81O-2</text><text x="605" y="1047.8">61.2</text><text x="679" y="1047.8">60</text><text x="749.5" y="1047.8">HZ</text><text x="806.5" y="1047.8">102%</text><text x="882.5" y="1047.8">300.00</text>
<text x="532.5" y="1064.3">79</text><text x="605" y="1064.3">570</text><text x="679" y="1064.3">600</text><text x="749.5" y="1064.3">V</text><text x="806.5" y="1064.3">95%</text><text x="882.5" y="1064.3">300.00</text>
<text x="532.5" y="1080.7">79</text><text x="605" y="1080.7">630</text><text x="679" y="1080.7">600</text><text x="749.5" y="1080.7">V</text><text x="806.5" y="1080.7">105%</text><text x="882.5" y="1080.7">300.00</text>
<text x="532.5" y="1097.1">79</text><text x="605" y="1097.1">59.4</text><text x="679" y="1097.1">60</text><text x="749.5" y="1097.1">HZ</text><text x="806.5" y="1097.1">99%</text><text x="882.5" y="1097.1">300.00</text>
<text x="532.5" y="1113.5">79</text><text x="605" y="1113.5">60.6</text><text x="679" y="1113.5">60</text><text x="749.5" y="1113.5">HZ</text><text x="806.5" y="1113.5">101%</text><text x="882.5" y="1113.5">300.00</text>
</g>
<text x="932" y="933">SLOW UV</text><text x="932" y="949.4">FAST UV</text><text x="932" y="965.8">SLOW OV</text><text x="932" y="982.2">FAST OV</text><text x="932" y="998.6">FAST UF</text><text x="932" y="1015">SLOW UF</text><text x="932" y="1031.4">FAST OF</text><text x="932" y="1047.8">SLOW OF</text><text x="932" y="1064.3">MIN RECL. VOLTAGE</text><text x="932" y="1080.7">MAX RECL. VOLTAGE</text>
<text x="932" y="1097.1" style="font-size:10px">MIN RECL. FREQ</text><text x="932" y="1113.5" style="font-size:10px">MAX RECL. FREQ</text>
</g>
</g>

<!-- ================= NOTES ================= -->
<rect x="1112" y="680" width="431" height="390" fill="none" stroke="#ccc" stroke-width=".5"/>
<g style="font-size:10.3px">
<text x="1121" y="701" textLength="420" lengthAdjust="spacing">1. ALL WORK SHALL BE IN ACCORDANCE WITH STATE AND LOCAL CODES, UTILITY</text>
<text x="1121" y="715">REQUIREMENTS, AND THE NEC, ESPECIALLY ARTICLE 690 &amp; 705.</text>
<text x="1121" y="729">2. METERING AND SCADA TO BE CONFIRMED BY UTILITY.</text>
<text x="1121" y="743" textLength="420" lengthAdjust="spacing">3. ACCESSIBLE, LOCKABLE, UTILITY AC DISCONNECT WITH VISIBLE BLADES SHALL BE</text>
<text x="1121" y="757">WITHIN 10' OF UTILITY METER.</text>
<text x="1121" y="771" textLength="420" lengthAdjust="spacing">4. PHOTOVOLTAIC SYSTEM TO OPERATE AT PF AS REQUIRED BY UTILITY. INVERTER</text>
<text x="1121" y="785" textLength="420" lengthAdjust="spacing">WILL HAVE CAPABILITY OF .80 TO .80 PF. (LEADING TO LAGGING) EXACT POWER</text>
<text x="1121" y="799" textLength="420" lengthAdjust="spacing">FACTOR/VAR CONTROL OF INVERTERS TO BE DETERMINED BASED ON UTILITY</text>
<text x="1121" y="813">REQUIREMENTS.</text>
<text x="1121" y="827" textLength="420" lengthAdjust="spacing">5. AC AND DC DISCONNECTS SHALL BE LABELED AS SUCH AND READILY ACCESSIBLE IN</text>
<text x="1121" y="841">THEIR APPROPRIATE LOCATIONS.</text>
<text x="1121" y="855" textLength="420" lengthAdjust="spacing">6. SOLAR PV MODULE FRAMES SHALL BE BONDED TO RACKING RAIL OR BARE COPPER</text>
<text x="1121" y="869">E.G.C PER THE MODULE MANUFACTURER'S LISTED INSTRUCTION SHEETS.</text>
<text x="1121" y="883" textLength="420" lengthAdjust="spacing">7. ALL JUNCTION BOXES, COMBINER BOXES, AND DISCONNECTS SHALL BE INSTALLED</text>
<text x="1121" y="897">IN AN ACCESSIBLE LOCATION.</text>
<text x="1121" y="911" textLength="420" lengthAdjust="spacing">8. THESE DRAWINGS REPRESENT ASSUMED FIELD CONDITIONS. INSTALLATION</text>
<text x="1121" y="925" textLength="420" lengthAdjust="spacing">SPECIFICATIONS MAY NEED TO BE ADJUSTED BASED ON ACTUAL FIELD CONDITIONS.</text>
<text x="1121" y="939" textLength="420" lengthAdjust="spacing">9. INTERACTIVE UTILITY INVERTER IS EQUIPPED WITH BOTH DC &amp; AC SURGE</text>
<text x="1121" y="953">PROTECTION TYPE II MOV.</text>
<text x="1121" y="967" textLength="420" lengthAdjust="spacing">10.OUTDOOR EQUIPMENT AND SWITCHGEAR SHALL BE IN ACCORDANCE WITH</text>
<text x="1121" y="981">APPLICABLE INDUSTRY STANDARDS.</text>
<text x="1121" y="995" textLength="420" lengthAdjust="spacing">11.METAL ENCLOSED LOW VOLTAGE SWITCHGEAR SHALL BE AS PER ANSI/IEEE</text>
<text x="1121" y="1009">C37.20.1.</text>
<text x="1121" y="1023">12.POLE-MOUNTED EQUIPMENT ENCLOSURES SHALL BE AS PER ANSI/IEEE C57.12.31.</text>
<text x="1121" y="1037">13.INVERTER INV16 TO BE FACTORY DERATED TO 120KWAC.</text>
</g>
<circle cx="1143" cy="1100" r="19" fill="none" stroke="#bbb" stroke-width=".6"/>
<line x1="1124" y1="1101" x2="1350" y2="1101" stroke="#222" stroke-width=".8"/>
<text x="1143" y="1097" class="c" style="font-size:12px">3</text>
<text x="1143" y="1115" class="c" style="font-size:11px">E200</text>
<text x="1176" y="1098" style="font-size:15.5px">NOTES</text>
<text x="1178" y="1115" style="font-size:10.5px">SCALE: NTS</text>

<!-- ================= INVERTER DC INPUT DETAILS ================= -->
<rect x="67.5" y="657" width="397" height="393" fill="none" stroke="#ccc" stroke-width=".5"/>
<g>
<text class="m c" x="186.2" y="676.5">TO</text><text class="m c" x="186.2" y="684">DISTRIBUTION SWBD</text><text class="m c" x="186.2" y="691.5">(SEE E200/1)</text>
<line x1="186.2" y1="696" x2="186.2" y2="892" class="gl"/>
<rect x="142.8" y="729" width="86.6" height="186.4" fill="none" stroke="#999" stroke-width=".5"/>
<line x1="142.8" y1="851.8" x2="229.4" y2="851.8" stroke="#777" stroke-width=".5"/>
<rect x="159.7" y="771.4" width="53.4" height="47.2" fill="#fff" stroke="#999" stroke-width=".5"/>
<line x1="159.7" y1="771.4" x2="213.1" y2="818.6" class="gl"/>
<path d="M194 781 q3 -10 6 0 t6 0" class="gl"/><line x1="165" y1="801" x2="179" y2="801" class="gl"/><line x1="165" y1="806" x2="179" y2="806" class="gl"/>
<circle cx="186.2" cy="749.4" r=".8" fill="#222"/><circle cx="186.2" cy="761.7" r=".8" fill="#222"/><line x1="186.5" y1="760" x2="190" y2="752" class="g"/>
<circle cx="186.2" cy="861.3" r=".8" fill="#222"/><circle cx="186.2" cy="873.3" r=".8" fill="#222"/><line x1="186.5" y1="872" x2="190" y2="864" class="g"/>
<path d="M160 740.7 h26 M163 739 v3.4 M172 739 h7 v3.4 h-7z M173 743 l6 -4" class="gl"/>
<path d="M160 834.5 h26 M163 832.8 v3.4 M172 832.8 h7 v3.4 h-7z M173 836.5 l6 -4" class="gl"/>
<g class="r" style="font-size:3.3px"><text x="139.7" y="788">TYP.  (12) INVERTERS</text><text x="139.7" y="792">CHINT CPS SCH125KTL-AIO/US-600</text><text x="139.7" y="796">125kVA, 600VAC</text><text x="139.7" y="800">INV01-INV12</text></g>
<line x1="154.3" y1="892" x2="219.2" y2="892" class="gl"/>
<line x1="154.3" y1="892" x2="154.3" y2="1011" class="gl"/><line x1="169.4" y1="892" x2="169.4" y2="1011" class="gl"/><line x1="219.2" y1="892" x2="219.2" y2="1011" class="gl"/>
<rect x="153" y="896.5" width="2.6" height="5.5" fill="#fff" stroke="#888" stroke-width=".4"/><rect x="168.1" y="896.5" width="2.6" height="5.5" fill="#fff" stroke="#888" stroke-width=".4"/><rect x="217.9" y="896.5" width="2.6" height="5.5" fill="#fff" stroke="#888" stroke-width=".4"/>
<line x1="179" y1="898.5" x2="207" y2="898.5" stroke="#222" stroke-width=".8" stroke-dasharray=".8 2.2"/>
<g class="c" style="font-size:3.3px"><text x="192.6" y="907">TYP. DC FUSES</text><text x="192.6" y="911">1500V, 25A</text></g>
<ellipse cx="190" cy="929.5" rx="44" ry="1.2" class="gl"/>
<line x1="234" y1="929.5" x2="237" y2="929.5" class="gl"/>
<text x="238.6" y="930.5" style="font-size:3.3px">TYPICAL PV CABLES</text>
<g style="font-size:3.2px"><text transform="translate(155.5,960) rotate(-90)">PV STRING 1</text><text transform="translate(170.6,960) rotate(-90)">PV STRING 2</text><text transform="translate(220.4,960) rotate(-90)">PV STRING 13</text></g>
<line x1="179" y1="947" x2="207" y2="947" stroke="#222" stroke-width=".8" stroke-dasharray=".8 2.2"/>
<line x1="179" y1="1003.8" x2="207" y2="1003.8" stroke="#222" stroke-width=".8" stroke-dasharray=".8 2.2"/>
<g fill="#fff" stroke="#999" stroke-width=".4">
<rect x="150.5" y="964.2" width="7.5" height="7.7"/><rect x="165.6" y="964.2" width="7.5" height="7.7"/><rect x="215.4" y="964.2" width="7.5" height="7.7"/>
<rect x="150.5" y="980.5" width="7.5" height="8"/><rect x="165.6" y="980.5" width="7.5" height="8"/><rect x="215.4" y="980.5" width="7.5" height="8"/>
<rect x="150.5" y="1011.2" width="7.5" height="7.8"/><rect x="165.6" y="1011.2" width="7.5" height="7.8"/><rect x="215.4" y="1011.2" width="7.5" height="7.8"/>
</g>
<g class="c" style="font-size:3.3px"><text x="154.3" y="970.5">1</text><text x="169.4" y="970.5">1</text><text x="219.2" y="970.5">1</text><text x="154.3" y="986.8">2</text><text x="169.4" y="986.8">2</text><text x="219.2" y="986.8">2</text><text x="154.3" y="1017.5">27</text><text x="169.4" y="1017.5">27</text><text x="219.2" y="1017.5">27</text><text x="154.3" y="1024.5">ST01</text><text x="169.4" y="1024.5">ST02</text><text x="219.2" y="1024.5">ST13</text></g>
<g class="r" style="font-size:3.3px"><text x="144" y="979">TYP.  (4,212) PV MODULES</text><text x="144" y="983">TRINA TSM-535DEG19C.20</text><text x="144" y="987">535Wp</text></g>
<text class="c" x="183.7" y="1042" style="font-size:6.5px">E200/2A</text>
</g>
<g>
<text class="m c" x="362.9" y="676.5">TO</text><text class="m c" x="362.9" y="684">DISTRIBUTION SWBD</text><text class="m c" x="362.9" y="691.5">(SEE E200/1)</text>
<line x1="362.9" y1="696" x2="362.9" y2="892" class="gl"/>
<rect x="319.5" y="729" width="86.6" height="186.4" fill="none" stroke="#999" stroke-width=".5"/>
<line x1="319.5" y1="851.8" x2="406.1" y2="851.8" stroke="#777" stroke-width=".5"/>
<rect x="336.4" y="771.4" width="53.4" height="47.2" fill="#fff" stroke="#999" stroke-width=".5"/>
<line x1="336.4" y1="771.4" x2="389.8" y2="818.6" class="gl"/>
<path d="M371 781 q3 -10 6 0 t6 0" class="gl"/><line x1="342" y1="801" x2="356" y2="801" class="gl"/><line x1="342" y1="806" x2="356" y2="806" class="gl"/>
<circle cx="362.9" cy="749.4" r=".8" fill="#222"/><circle cx="362.9" cy="761.7" r=".8" fill="#222"/><line x1="363.2" y1="760" x2="366.7" y2="752" class="g"/>
<circle cx="362.9" cy="861.3" r=".8" fill="#222"/><circle cx="362.9" cy="873.3" r=".8" fill="#222"/><line x1="363.2" y1="872" x2="366.7" y2="864" class="g"/>
<path d="M337 740.7 h26 M340 739 v3.4 M349 739 h7 v3.4 h-7z M350 743 l6 -4" class="gl"/>
<path d="M337 837 h26 M340 835.3 v3.4 M349 835.3 h7 v3.4 h-7z M350 839 l6 -4" class="gl"/>
<g class="r" style="font-size:3.3px"><text x="316.4" y="788">TYP.  (4) INVERTERS</text><text x="316.4" y="792">CHINT CPS SCH125KTL-AIO/US-600</text><text x="316.4" y="796">125kVA, 600VAC</text><text x="316.4" y="800">INV13-INV16</text></g>
<line x1="331" y1="892" x2="395.9" y2="892" class="gl"/>
<line x1="331" y1="892" x2="331" y2="1011" class="gl"/><line x1="346.1" y1="892" x2="346.1" y2="1011" class="gl"/><line x1="395.9" y1="892" x2="395.9" y2="1011" class="gl"/>
<rect x="329.7" y="896.5" width="2.6" height="5.5" fill="#fff" stroke="#888" stroke-width=".4"/><rect x="344.8" y="896.5" width="2.6" height="5.5" fill="#fff" stroke="#888" stroke-width=".4"/><rect x="394.6" y="896.5" width="2.6" height="5.5" fill="#fff" stroke="#888" stroke-width=".4"/>
<line x1="356" y1="898.5" x2="384" y2="898.5" stroke="#222" stroke-width=".8" stroke-dasharray=".8 2.2"/>
<g class="c" style="font-size:3.3px"><text x="369.3" y="907">TYP. DC FUSES</text><text x="369.3" y="911">1500V, 25A</text></g>
<ellipse cx="366.7" cy="929.5" rx="44" ry="1.2" class="gl"/>
<line x1="410.7" y1="929.5" x2="414" y2="929.5" class="gl"/>
<text x="415.3" y="930.5" style="font-size:3.3px">TYPICAL PV CABLES</text>
<g style="font-size:3.2px"><text transform="translate(332.2,960) rotate(-90)">PV STRING 1</text><text transform="translate(347.3,960) rotate(-90)">PV STRING 2</text><text transform="translate(397.1,960) rotate(-90)">PV STRING 12</text></g>
<line x1="356" y1="947" x2="384" y2="947" stroke="#222" stroke-width=".8" stroke-dasharray=".8 2.2"/>
<line x1="356" y1="1003.8" x2="384" y2="1003.8" stroke="#222" stroke-width=".8" stroke-dasharray=".8 2.2"/>
<g fill="#fff" stroke="#999" stroke-width=".4">
<rect x="327.2" y="964.2" width="7.5" height="7.7"/><rect x="342.3" y="964.2" width="7.5" height="7.7"/><rect x="392.1" y="964.2" width="7.5" height="7.7"/>
<rect x="327.2" y="980.5" width="7.5" height="8"/><rect x="342.3" y="980.5" width="7.5" height="8"/><rect x="392.1" y="980.5" width="7.5" height="8"/>
<rect x="327.2" y="1011.2" width="7.5" height="7.8"/><rect x="342.3" y="1011.2" width="7.5" height="7.8"/><rect x="392.1" y="1011.2" width="7.5" height="7.8"/>
</g>
<g class="c" style="font-size:3.3px"><text x="331" y="970.5">1</text><text x="346.1" y="970.5">1</text><text x="395.9" y="970.5">1</text><text x="331" y="986.8">2</text><text x="346.1" y="986.8">2</text><text x="395.9" y="986.8">2</text><text x="331" y="1017.5">27</text><text x="346.1" y="1017.5">27</text><text x="395.9" y="1017.5">27</text><text x="331" y="1024.5">ST01</text><text x="346.1" y="1024.5">ST02</text><text x="395.9" y="1024.5">ST12</text></g>
<g class="r" style="font-size:3.3px"><text x="320.7" y="979">TYP.  (1,296) PV MODULES</text><text x="320.7" y="983">TRINA TSM-535DEG19C.20</text><text x="320.7" y="987">535Wp</text></g>
<text class="c" x="360.4" y="1042" style="font-size:6.5px">E200/2B</text>
</g>
<circle cx="83" cy="1100" r="19" fill="none" stroke="#bbb" stroke-width=".6"/>
<line x1="64" y1="1101" x2="438" y2="1101" stroke="#222" stroke-width=".8"/>
<text x="83" y="1097" class="c" style="font-size:12px">2</text>
<text x="83" y="1115" class="c" style="font-size:11px">E200</text>
<text x="116" y="1098" style="font-size:15.5px">INVERTER DC INPUT DETAILS</text>
<text x="117" y="1115" style="font-size:10.5px">SCALE: NTS</text>

<text transform="translate(867,582) rotate(-44.5)" text-anchor="middle" style="font-size:27px;font-weight:bold;fill:#8c8c8c;opacity:.8;stroke:#777;stroke-width:.4">www.AmperSolar.com</text>
</svg>
</body></html>
